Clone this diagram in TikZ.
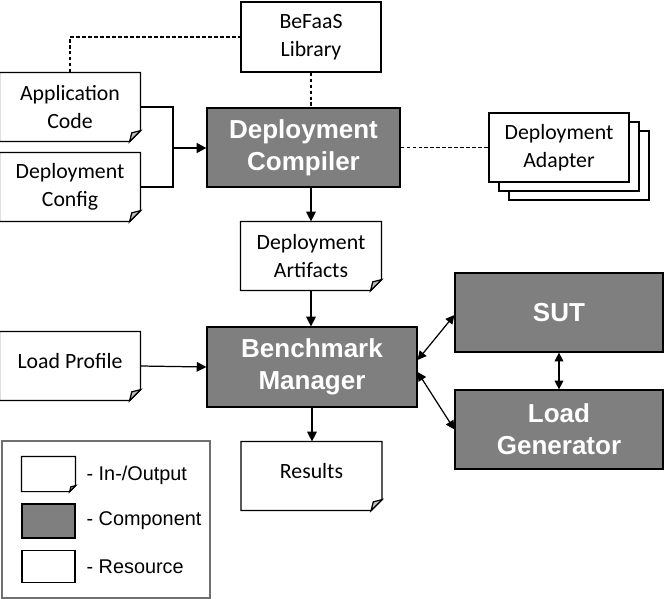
\documentclass[tikz,border=0pt]{standalone}
\usepackage{fontspec}
\setmainfont{Carlito}
\newfontfamily\arialfont{Liberation Sans}
\usetikzlibrary{arrows.meta}
\definecolor{compgray}{HTML}{7F7F7F}
\definecolor{foldgray}{HTML}{BFBFBF}
\definecolor{legendgray}{HTML}{707070}

\begin{document}
\begin{tikzpicture}[x=0.02cm,y=0.02cm,line width=0.7pt]
\tikzstyle{every node}+=[inner sep=0pt]
\tikzstyle{iofile}=[fill=white,minimum width=2.8cm,minimum height=1.36cm,align=center,font=\fontsize{12.4}{15.8}\selectfont]
\tikzstyle{oneline}=[text depth=5.6pt]
\tikzstyle{resource}=[draw,fill=white,minimum width=2.8cm,minimum height=1.4cm,align=center,font=\fontsize{12.4}{15.8}\selectfont]
\tikzstyle{comp}=[draw,fill=compgray,text=white,align=center,minimum height=1.58cm,font=\arialfont\bfseries\fontsize{14.8}{18.4}\selectfont]
\tikzstyle{keytext}=[anchor=west,font=\arialfont\fontsize{11.3}{13}\selectfont]
\tikzstyle{flow}=[-{Triangle[length=5.5pt,width=5.5pt]}]
\tikzstyle{both}=[{Triangle[length=5pt,width=5pt]}-{Triangle[length=5pt,width=5pt]}]
\tikzstyle{link}=[dash pattern=on 2.2pt off 1.2pt]
\useasboundingbox (0,0) rectangle (664,-599);
% inputs and library
\node[resource] (befaas) at (311,-37) {BeFaaS\\Library};
\node[iofile] (appcode) at (70,-107) {Application\\Code};
\node[iofile] (depconfig) at (70,-187) {Deployment\\Config};
\node[comp,minimum width=3.86cm] (compiler) at (303.5,-147.5) {Deployment\\Compiler};
\node[resource,minimum height=1.38cm] (adapter3) at (579,-165.5) {};
\node[resource,minimum height=1.38cm] (adapter2) at (569,-156.5) {};
\node[resource,minimum height=1.38cm] (adapter) at (559,-147.5) {Deployment\\Adapter};
\node[iofile] (artifacts) at (311,-256) {Deployment\\Artifacts};
% benchmark part
\node[iofile,oneline] (profile) at (70,-366) {Load Profile};
\node[comp,minimum width=4.2cm,minimum height=1.6cm] (manager) at (312,-367) {Benchmark\\Manager};
\node[comp,minimum width=4.16cm] (sut) at (559,-312.5) {SUT};
\node[comp,minimum width=4.16cm] (loadgen) at (559,-429.5) {Load\\Generator};
\node[iofile,oneline] (results) at (311.5,-476) {Results};
% legend
\node[draw=legendgray,line width=0.6pt,minimum width=4.16cm,minimum height=3.14cm] (legend) at (106,-519.5) {};
\node[iofile,minimum width=1.06cm,minimum height=0.68cm] (keyfile) at (48.5,-474) {};
\node[comp,minimum width=1.06cm,minimum height=0.68cm] (keycomp) at (48.5,-521) {};
\node[resource,minimum width=1.06cm,minimum height=0.64cm] (keyres) at (48.5,-566.5) {};
\node[keytext] (keyfilelabel) at (86,-475) {- In-/Output};
\node[keytext] (keycomplabel) at (86,-521) {- Component};
\node[keytext] (keyreslabel) at (86,-567) {- Resource};
% folded corners of the in-/output files
\foreach \n/\c in {appcode/11,depconfig/11,artifacts/11,profile/11,results/11,keyfile/6}{
  \draw (\n.north west) -- (\n.north east) -- ([shift={(0,\c)}]\n.south east) -- ([shift={(-\c,0)}]\n.south east) -- (\n.south west) -- cycle;
  \filldraw[fill=foldgray] ([shift={(0,\c)}]\n.south east) -- ([shift={(-\c,0)}]\n.south east) -- ([shift={(-0.8*\c,0.8*\c)}]\n.south east) -- cycle;
}
% connectors
\coordinate (join) at (173,-148);
\draw (appcode.east) -| (join);
\draw (depconfig.east) -| (join);
\draw[flow,line width=1.2pt] (join) -- (join -| compiler.west);
\draw[link] (appcode.north) |- (befaas.west);
\draw[link] (befaas.south) -- (befaas.south |- compiler.north);
\draw[link] (compiler.east) -- (adapter.west);
\draw[flow] (artifacts.north |- compiler.south) -- (artifacts.north);
\draw[flow] (artifacts.south) -- (artifacts.south |- manager.north);
\draw[flow] (profile.east) -- (manager.west);
\draw[both] ([yshift=0.14cm]manager.east) -- ([yshift=-0.05cm]sut.west);
\draw[both] ([yshift=-0.1cm]manager.east) -- (loadgen.west);
\draw[both] (sut.south) -- (loadgen.north);
\draw[flow] (manager.south) -- (manager.south |- results.north);
\end{tikzpicture}
\end{document}
